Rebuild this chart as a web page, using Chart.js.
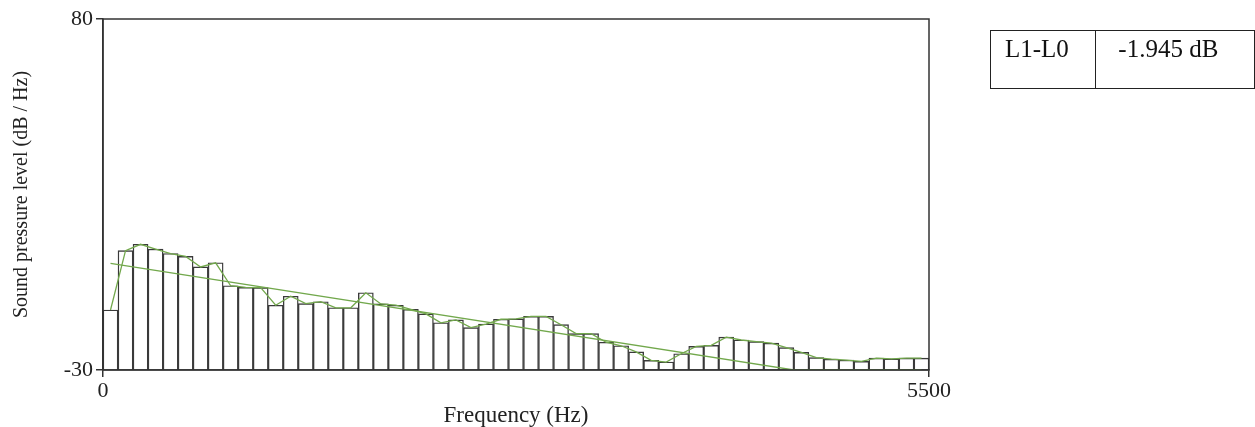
<!DOCTYPE html>
<html>
<head>
<meta charset="utf-8">
<script src="https://cdn.jsdelivr.net/npm/chart.js@4.4.0/dist/chart.umd.min.js"></script>
<style>
	html, body { margin: 0; padding: 0; background: #fff; overflow: hidden; }
	#wrap { position: relative; width: 1255px; height: 427px; }
	#box { position: absolute; left: 990px; top: 30px; border-collapse: collapse;
		font-family: "Liberation Serif", serif; font-size: 25px; color: #111; }
	#box td { border: 1px solid #222; height: 58px; vertical-align: top; padding: 4px 0 0 0; box-sizing: border-box; }
</style>
</head>
<body>
<div id="wrap">
	<canvas id="myChart" width="1255" height="427"></canvas>
	<table id="box">
		<tr><td style="width:114px; padding-left:14px;">L1-L0</td>
			<td style="width:170px; padding-left:22px;">-1.945 dB</td></tr>
	</table>
</div>
<script>
(function() {
	'use strict';

	// 100 Hz bins, 0 - 5500 Hz (centres)
	var binCentres = [];
	for (var i = 0; i < 55; i++) binCentres.push(50 + 100 * i);

	// band levels (dB/Hz)
	var levels = [
		-11.2, 7.4, 9.4, 7.9, 6.5, 5.6, 2.3, 3.6, -3.6, -4.1,
		-4.2, -9.7, -6.9, -9.2, -8.6, -10.5, -10.5, -5.8, -9.3, -9.7,
		-11.0, -12.4, -15.2, -14.3, -16.7, -15.6, -14.1, -14.0, -13.2, -13.2,
		-15.8, -18.6, -18.6, -21.3, -22.4, -24.3, -27.0, -27.5, -24.9, -22.6,
		-22.3, -19.7, -20.6, -21.1, -21.6, -23.0, -24.5, -26.1, -26.6, -26.9,
		-27.3, -26.3, -26.5, -26.3, -26.3
	];

	// regression line end points
	var trendX = [50, 4600, 5450];
	var trendY = [3.4, -30, -30];

	var yTicks = [-30, 80];
	var xTicks = [0, 5500];

	var serif = '"Liberation Serif", "Times New Roman", serif';
	var green = '#72a84c';

	var barData = binCentres.map(function(x, i) { return { x: x, y: levels[i] }; });
	var trendData = trendX.map(function(x, i) { return { x: x, y: trendY[i] }; });

	// frame round the plot area
	var frame = {
		id: 'frame',
		afterDatasetsDraw: function(chart) {
			var a = chart.chartArea, c = chart.ctx;
			c.save();
			c.strokeStyle = '#333';
			c.lineWidth = 1.5;
			c.strokeRect(a.left, a.top, a.right - a.left, a.bottom - a.top);
			c.restore();
		}
	};

	var ctx = document.getElementById('myChart').getContext('2d');
	var myChart = new Chart(ctx, {
		type: 'bar',
		data: {
			datasets: [{
				type: 'line',
				data: barData,
				borderColor: green,
				borderWidth: 1.3,
				pointRadius: 0,
				fill: false,
				order: 0
			}, {
				type: 'line',
				data: trendData,
				borderColor: green,
				borderWidth: 1.3,
				pointRadius: 0,
				fill: false,
				order: 1
			}, {
				type: 'bar',
				data: barData,
				base: -30,
				backgroundColor: '#fff',
				borderColor: '#3a3a3a',
				borderWidth: 1.4,
				barPercentage: 1,
				categoryPercentage: 1,
				order: 2
			}]
		},
		options: {
			responsive: false,
			animation: false,
			layout: { padding: { top: 19, right: 326, left: 0, bottom: 0 } },
			plugins: { legend: { display: false }, tooltip: { enabled: false } },
			scales: {
				x: {
					type: 'linear',
					offset: false,
					min: 0, max: 5500,
					afterBuildTicks: function(s) { s.ticks = xTicks.map(function(v) { return { value: v }; }); },
					afterFit: function(s) { s.height = 57; },
					grid: { offset: false, drawOnChartArea: false, tickLength: 7, color: '#333', lineWidth: 1.5 },
					border: { color: '#333', width: 1.5 },
					ticks: { font: { family: serif, size: 22 }, color: '#222', padding: 1, maxRotation: 0,
						callback: function(v) { return String(v); } },
					title: { display: true, text: 'Frequency (Hz)', font: { family: serif, size: 23, lineHeight: 1 }, color: '#222', padding: { top: 0, bottom: 0 } }
				},
				y: {
					min: -30, max: 80,
					afterBuildTicks: function(s) { s.ticks = yTicks.map(function(v) { return { value: v }; }); },
					afterFit: function(s) { s.width = 103; },
					grid: { drawOnChartArea: false, tickLength: 7, color: '#333', lineWidth: 1.5 },
					border: { color: '#333', width: 1.5 },
					ticks: { font: { family: serif, size: 22 }, color: '#222', padding: 3,
						callback: function(v) { return String(v); } },
					title: { display: true, text: 'Sound pressure level (dB / Hz)', font: { family: serif, size: 20, lineHeight: 1 }, color: '#222', padding: { top: 12, bottom: 0 } }
				}
			}
		},
		plugins: [frame]
	});
})();
</script>
</body>
</html>
